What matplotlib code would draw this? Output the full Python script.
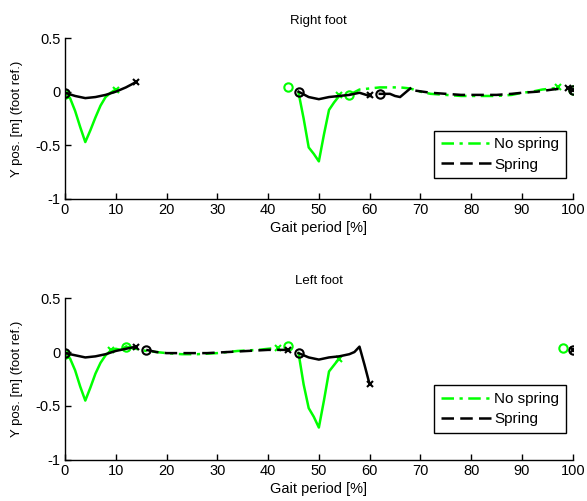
import matplotlib
matplotlib.use("Agg")
import matplotlib.pyplot as plt
from matplotlib.lines import Line2D

plt.rcParams['font.family'] = ['Liberation Sans', 'DejaVu Sans']
plt.rcParams['font.size'] = 10

GREEN = '#00ff00'

# ---- Right foot ----
rf_ns_st1_x = [0, 1, 2, 3, 4, 5, 6, 7, 8, 9, 10]
rf_ns_st1_y = [-0.02, -0.06, -0.18, -0.33, -0.47, -0.36, -0.24, -0.13, -0.05, -0.01, 0.02]
rf_ns_st2_x = [46, 47, 48, 49, 50, 51, 52, 53, 54]
rf_ns_st2_y = [-0.01, -0.25, -0.52, -0.58, -0.65, -0.40, -0.17, -0.10, -0.04]
rf_ns_sw_x = [56, 58, 60, 62, 64, 66, 68, 70, 72, 75, 78, 80, 82, 85, 88, 90, 92, 94, 96, 97]
rf_ns_sw_y = [-0.03, 0.02, 0.03, 0.04, 0.04, 0.04, 0.03, 0.0, -0.02, -0.03, -0.04, -0.04,
              -0.04, -0.04, -0.03, -0.01, 0.0, 0.02, 0.03, 0.04]
rf_ns_o = ([0, 44, 56, 100], [-0.02, 0.04, -0.03, 0.02])
rf_ns_x = ([10, 54, 97], [0.02, -0.03, 0.04])

rf_sp_st1_x = [0, 2, 4, 6, 8, 10, 12, 14]
rf_sp_st1_y = [-0.01, -0.04, -0.06, -0.05, -0.03, 0.0, 0.04, 0.09]
rf_sp_st2_x = [46, 48, 50, 52, 54, 56, 58, 60]
rf_sp_st2_y = [0.0, -0.05, -0.07, -0.05, -0.04, -0.03, -0.01, -0.04]
rf_sp_st3_x = [62, 64, 65, 66, 67, 68]
rf_sp_st3_y = [-0.02, -0.02, -0.04, -0.05, -0.01, 0.03]
rf_sp_sw_x = [69, 72, 75, 78, 80, 83, 85, 88, 90, 93, 96, 98]
rf_sp_sw_y = [0.01, -0.01, -0.02, -0.03, -0.03, -0.03, -0.03, -0.02, -0.01, 0.0, 0.02, 0.03]
rf_sp_o = ([0, 46, 62, 100], [-0.01, 0.0, -0.02, 0.02])
rf_sp_x = ([14, 60, 99, 100], [0.09, -0.03, 0.03, 0.02])

# ---- Left foot ----
lf_ns_st1_x = [0, 1, 2, 3, 4, 5, 6, 7, 8, 9, 10, 11, 12]
lf_ns_st1_y = [-0.02, -0.06, -0.17, -0.32, -0.45, -0.33, -0.20, -0.10, -0.03, 0.01, 0.03, 0.02, 0.05]
lf_ns_sw_x = [12, 14, 16, 18, 20, 23, 26, 30, 34, 38, 40, 42]
lf_ns_sw_y = [0.05, 0.03, 0.01, 0.0, -0.01, -0.02, -0.02, -0.01, 0.01, 0.02, 0.03, 0.04]
lf_ns_st2_x = [46, 47, 48, 49, 50, 51, 52, 53, 54]
lf_ns_st2_y = [-0.01, -0.30, -0.52, -0.60, -0.70, -0.45, -0.18, -0.12, -0.06]
lf_ns_o = ([0, 12, 44, 98], [-0.02, 0.05, 0.06, 0.04])
lf_ns_x = ([9, 42, 54], [0.02, 0.04, -0.06])

lf_sp_st1_x = [0, 2, 4, 6, 8, 10, 12, 14]
lf_sp_st1_y = [-0.01, -0.03, -0.05, -0.04, -0.02, 0.01, 0.03, 0.05]
lf_sp_sw_x = [16, 18, 20, 24, 28, 32, 36, 40, 44]
lf_sp_sw_y = [0.02, 0.0, -0.01, -0.01, -0.01, 0.0, 0.01, 0.02, 0.02]
lf_sp_st2_x = [46, 48, 50, 52, 54, 56, 57, 58, 59, 60]
lf_sp_st2_y = [-0.01, -0.05, -0.07, -0.05, -0.04, -0.02, 0.0, 0.05, -0.12, -0.30]
lf_sp_o = ([0, 16, 46, 100], [-0.01, 0.02, -0.01, 0.02])
lf_sp_x = ([14, 44, 60, 100], [0.05, 0.02, -0.30, 0.02])

fig = plt.figure(figsize=(5.87, 5.01), dpi=100)
ax1 = fig.add_axes([0.1107, 0.603, 0.865, 0.321])
ax2 = fig.add_axes([0.1107, 0.082, 0.865, 0.323])

lw = 1.8
dash = (0, (5, 2.5))
dashdot = (0, (5, 2.2, 1.3, 2.2))


def draw(ax, solid_g, sw_g, go, gx, solid_k, sw_k, ko, kx):
    for xs, ys in solid_g:
        ax.plot(xs, ys, color=GREEN, lw=lw, solid_joinstyle='round')
    for xs, ys in sw_g:
        ax.plot(xs, ys, color=GREEN, lw=lw, linestyle=dashdot)
    ax.plot(go[0], go[1], 'o', mfc='none', mec=GREEN, ms=6, mew=1.5)
    ax.plot(gx[0], gx[1], 'x', color=GREEN, ms=5, mew=1.5)
    for xs, ys in solid_k:
        ax.plot(xs, ys, color='black', lw=lw, solid_joinstyle='round')
    for xs, ys in sw_k:
        ax.plot(xs, ys, color='black', lw=lw, linestyle=dash)
    ax.plot(ko[0], ko[1], 'o', mfc='none', mec='black', ms=6, mew=1.5)
    ax.plot(kx[0], kx[1], 'x', color='black', ms=5, mew=1.5)


draw(ax1,
     [(rf_ns_st1_x, rf_ns_st1_y), (rf_ns_st2_x, rf_ns_st2_y)],
     [(rf_ns_sw_x, rf_ns_sw_y)], rf_ns_o, rf_ns_x,
     [(rf_sp_st1_x, rf_sp_st1_y), (rf_sp_st2_x, rf_sp_st2_y), (rf_sp_st3_x, rf_sp_st3_y)],
     [(rf_sp_sw_x, rf_sp_sw_y)], rf_sp_o, rf_sp_x)

draw(ax2,
     [(lf_ns_st1_x, lf_ns_st1_y), (lf_ns_st2_x, lf_ns_st2_y)],
     [(lf_ns_sw_x, lf_ns_sw_y)], lf_ns_o, lf_ns_x,
     [(lf_sp_st1_x, lf_sp_st1_y), (lf_sp_st2_x, lf_sp_st2_y)],
     [(lf_sp_sw_x, lf_sp_sw_y)], lf_sp_o, lf_sp_x)

titles = ['Right foot', 'Left foot']
legend_y = [0.08, 0.12]
xticks = [0, 10, 20, 30, 40, 50, 60, 70, 80, 90, 100]
yticks = [-1, -0.5, 0, 0.5]
ytick_labels = ['-1', '-0.5', '0', '0.5']

for ax, t, ly in zip([ax1, ax2], titles, legend_y):
    ax.set_xlim(0, 100)
    ax.set_ylim(-1, 0.5)
    ax.set_xticks(xticks)
    ax.set_yticks(yticks)
    ax.set_yticklabels(ytick_labels)
    ax.spines['top'].set_visible(False)
    ax.spines['right'].set_visible(False)
    ax.spines['left'].set_linewidth(1.0)
    ax.spines['bottom'].set_linewidth(1.0)
    ax.tick_params(direction='in', length=4, width=1, labelsize=10.5, pad=3)
    ax.set_title(t, fontsize=9.5, pad=10)
    ax.set_xlabel('Gait period [%]', fontsize=10.5, labelpad=3)
    ax.set_ylabel('Y pos. [m] (foot ref.)', fontsize=9.5, labelpad=9)
    handles = [Line2D([], [], color=GREEN, lw=lw, linestyle=dashdot),
               Line2D([], [], color='black', lw=lw, linestyle=dash)]
    leg = ax.legend(handles, ['No spring', 'Spring'], loc='lower right',
                    bbox_to_anchor=(1.002, ly), fancybox=False, edgecolor='black',
                    framealpha=1, handlelength=3.3, borderpad=0.45, labelspacing=0.4,
                    handletextpad=0.2, fontsize=11)
    leg.get_frame().set_linewidth(1.0)

fig.savefig('out.png', dpi=100)
